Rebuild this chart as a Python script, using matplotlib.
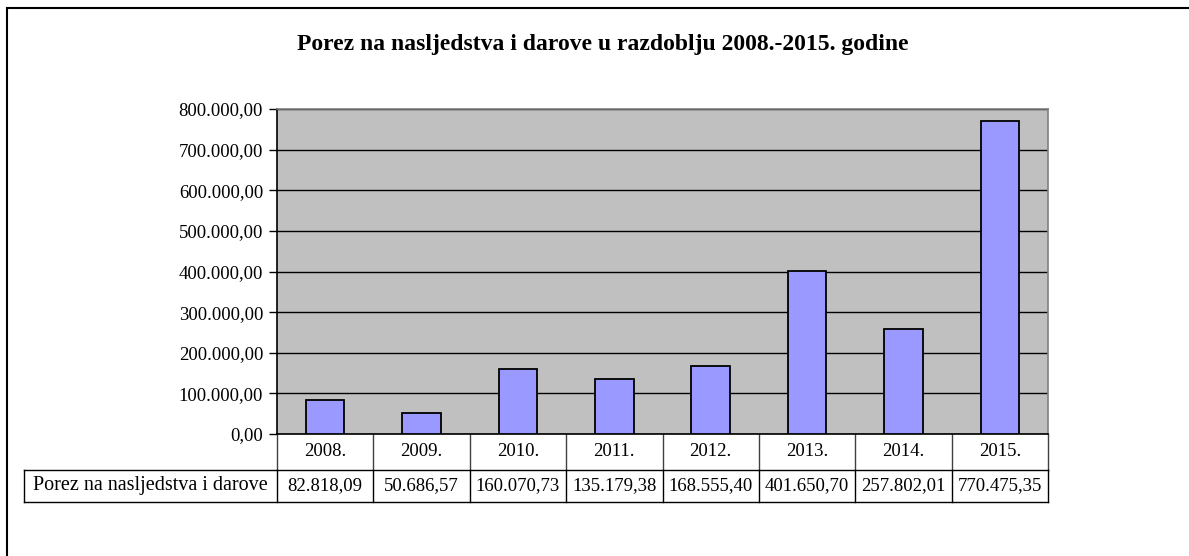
import numpy as np
import matplotlib
matplotlib.use("Agg")
import matplotlib.pyplot as plt
from matplotlib.patches import Rectangle
from matplotlib.ticker import FuncFormatter

years = ["2008.", "2009.", "2010.", "2011.", "2012.", "2013.", "2014.", "2015."]
values = [82818.09, 50686.57, 160070.73, 135179.38, 168555.40, 401650.70, 257802.01, 770475.35]
series_name = "Porez na nasljedstva i darove"
title = "Porez na nasljedstva i darove u razdoblju 2008.-2015. godine"

plt.rcParams['font.family'] = ['Liberation Serif', 'DejaVu Serif']
FS = 13.5

W, H = 1189, 556
fig = plt.figure(figsize=(W / 100, H / 100), dpi=100)

def fx(px):
    return px / W

def fy(py):
    return 1 - py / H

def hr(v):
    # croatian number format: 800.000,00
    s = f"{v:,.2f}"
    return s.replace(",", "X").replace(".", ",").replace("X", ".")

# outer chart frame (runs off the right and bottom edge)
fig.add_artist(Rectangle((fx(7), -0.1), 1.2, fy(8) + 0.1, transform=fig.transFigure,
                         fill=False, edgecolor="black", linewidth=1.5))

fig.text(fx(603), fy(45), title, ha="center", va="center", fontsize=17, fontweight="bold")

left, right, top, bottom = 277, 1048, 109, 434
ax = fig.add_axes([fx(left), fy(bottom), fx(right - left), (bottom - top) / H])
ax.set_facecolor("#c0c0c0")
x = np.arange(len(years))
ax.bar(x, values, width=0.4, color="#9999ff", edgecolor="black", linewidth=1.3, zorder=3)
ax.set_xlim(-0.5, len(years) - 0.5)
ax.set_ylim(0, 800000)
ax.set_yticks(np.arange(0, 800001, 100000))
ax.yaxis.set_major_formatter(FuncFormatter(lambda v, p: hr(v)))
ax.tick_params(axis="y", length=6, width=1, labelsize=FS, pad=4, color="black")
ax.tick_params(axis="x", length=0, labelbottom=False)
ax.grid(axis="y", color="black", linewidth=1, zorder=1)
ax.set_axisbelow(True)
ax.spines["left"].set_color("black")
ax.spines["bottom"].set_color("black")
ax.spines["top"].set_color("#808080")
ax.spines["right"].set_color("#808080")
for s in ax.spines.values():
    s.set_linewidth(1.2)

# data table under the plot
row_h = 36 / (bottom - top)
tr = ax.get_xaxis_transform()
y0, y1, y2 = 0, -row_h, -2 * row_h * 0.94
lab_left = (24 - left) / (right - left) * len(years) - 0.5
kw = dict(transform=tr, clip_on=False, color="black", linewidth=1)
for i in range(len(years) + 1):
    xe = i - 0.5
    ax.plot([xe, xe], [y0, y1], **dict(kw, color="#404040"))
    ax.plot([xe, xe], [y1, y2], **kw)
ax.plot([-0.5, len(years) - 0.5], [y1, y1], **kw)
ax.plot([lab_left, len(years) - 0.5], [y2, y2], **kw)
ax.plot([lab_left, -0.5], [y1, y1], **kw)
ax.plot([lab_left, lab_left], [y1, y2], **kw)
for i, (yr, v) in enumerate(zip(years, values)):
    ax.text(i, (y0 + y1) / 2, yr, transform=tr, ha="center", va="center", fontsize=FS)
    ax.text(i, (y1 + y2) / 2, hr(v), transform=tr, ha="center", va="center", fontsize=FS)
ax.text((lab_left - 0.5) / 2, (y1 + y2) / 2, series_name, transform=tr,
        ha="center", va="center", fontsize=14.5)

fig.savefig("out.png", dpi=100)
